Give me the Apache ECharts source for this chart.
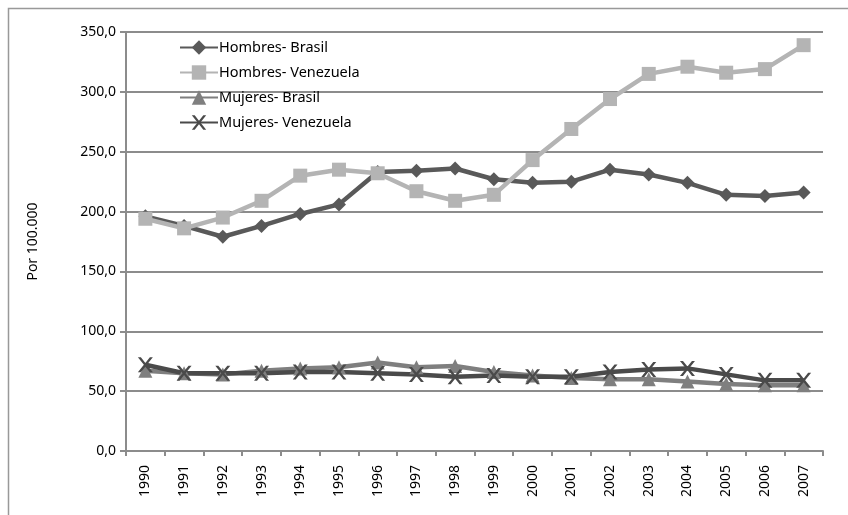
<!DOCTYPE html>
<html>
<head>
<meta charset="utf-8">
<script src="https://cdn.jsdelivr.net/npm/echarts@6/dist/echarts.min.js"></script>
<style>
  html, body { margin: 0; padding: 0; background: #fff; }
  #chart { width: 848px; height: 515px; }
</style>
</head>
<body>
<div id="chart"></div>
<script>
// datos
var years = ['1990','1991','1992','1993','1994','1995','1996','1997','1998','1999',
             '2000','2001','2002','2003','2004','2005','2006','2007'];
var hombresBrasil = [196, 188, 179, 188, 198, 206, 233, 234, 236, 227, 224, 225, 235, 231, 224, 214, 213, 216];
var hombresVenezuela = [194, 186, 195, 209, 230, 235, 232, 217, 209, 214, 243, 269, 294, 315, 321, 316, 319, 339];
var mujeresBrasil = [67, 65, 64, 67, 69, 70, 74, 70, 71, 66, 63, 61, 60, 60, 58, 56, 55, 55];
var mujeresVenezuela = [72, 65, 65, 65, 66, 66, 65, 64, 62, 63, 62, 62, 66, 68, 69, 64, 59, 59];

var txtFont = 'Noto Sans';

var serie = function (name, data, color, symbol, size) {
    return {
        name: name,
        type: 'line',
        data: data,
        symbol: symbol,
        symbolSize: size,
        lineStyle: { color: color, width: 4.5 },
        itemStyle: { color: color },
        animation: false
    };
};

var chart = echarts.init(document.getElementById('chart'));
chart.setOption({
    backgroundColor: '#fff',
    textStyle: { fontFamily: txtFont },
    graphic: [{
        type: 'rect',
        shape: { x: 8.5, y: 8.5, width: 900, height: 600 },
        style: { fill: 'none', stroke: '#999', lineWidth: 1.5 },
        silent: true
    }],
    grid: { left: 126, right: 25, top: 32, bottom: 64 },
    legend: {
        orient: 'vertical',
        left: 174,
        top: 35,
        itemGap: 10,
        itemWidth: 38,
        itemHeight: 18,
        textStyle: { fontFamily: txtFont, fontSize: 14.5, color: '#000', padding: [0, 0, 0, -4] },
        data: ['Hombres- Brasil', 'Hombres- Venezuela', 'Mujeres- Brasil', 'Mujeres- Venezuela']
    },
    xAxis: {
        type: 'category',
        data: years,
        boundaryGap: true,
        axisLine: { lineStyle: { color: '#8c8c8c', width: 2 } },
        axisTick: { show: true, length: 5, lineStyle: { color: '#8c8c8c', width: 2 } },
        axisLabel: { rotate: 90, margin: 14, fontSize: 14, color: '#000', fontFamily: txtFont }
    },
    yAxis: {
        type: 'value',
        min: 0,
        max: 350,
        interval: 50,
        name: 'Por 100.000',
        nameLocation: 'middle',
        nameGap: 86,
        nameTextStyle: { fontSize: 14, color: '#000', fontFamily: txtFont },
        axisLine: { show: true, lineStyle: { color: '#8c8c8c', width: 2 } },
        axisTick: { show: true, length: 6, lineStyle: { color: '#8c8c8c', width: 2 } },
        splitLine: { lineStyle: { color: '#8c8c8c', width: 2 } },
        axisLabel: {
            fontSize: 14, color: '#000', margin: 10, fontFamily: txtFont,
            formatter: function (v) { return v.toFixed(1).replace('.', ','); }
        }
    },
    series: [
        serie('Hombres- Brasil', hombresBrasil, '#595959', 'diamond', 14),
        serie('Hombres- Venezuela', hombresVenezuela, '#b4b4b4', 'rect', 14),
        serie('Mujeres- Brasil', mujeresBrasil, '#7f7f7f', 'triangle', 14),
        serie('Mujeres- Venezuela', mujeresVenezuela, '#4a4a4a', 'path://M0,0L2,0L5,3L8,0L10,0L6,4L10,8L8,8L5,5L2,8L0,8L4,4Z', 15)
    ]
});
</script>
</body>
</html>
